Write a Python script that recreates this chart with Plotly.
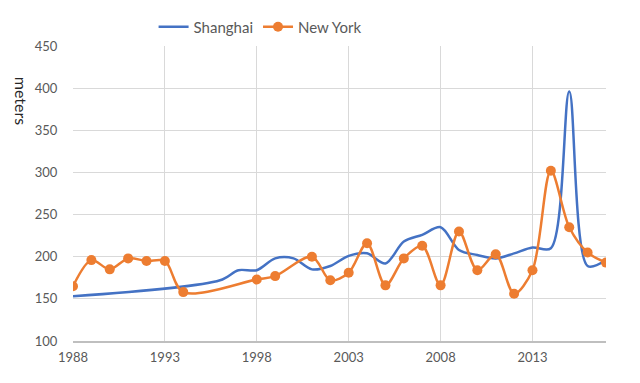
import plotly.graph_objects as go

# Shanghai (smooth line, no markers)
sh_years = [1988, 1996, 1997, 1998, 1999, 2000, 2001, 2002, 2003, 2004, 2005, 2006,
            2007, 2008, 2009, 2010, 2011, 2012, 2013, 2014, 2015, 2016, 2017]
sh_heights = [153, 172, 184, 184, 198, 198, 185, 189, 201, 204, 192, 218,
              226, 235, 208, 202, 198, 204, 211, 210, 396, 189, 196]

# New York (smooth line with markers)
ny_years = [1988, 1989, 1990, 1991, 1992, 1993, 1994, 1998, 1999, 2001, 2002, 2003,
            2004, 2005, 2006, 2007, 2008, 2009, 2010, 2011, 2012, 2013, 2014, 2015,
            2016, 2017]
ny_heights = [165, 196, 185, 198, 195, 195, 158, 173, 177, 200, 172, 181,
              216, 166, 198, 213, 166, 230, 184, 203, 156, 184, 302, 235,
              205, 193]

x_ticks = [1988, 1993, 1998, 2003, 2008, 2013]
y_ticks = [100, 150, 200, 250, 300, 350, 400, 450]

BLUE = "#4472C4"
ORANGE = "#ED7D31"
FONT = "Lato, 'Noto Sans', sans-serif"

fig = go.Figure()
fig.add_trace(go.Scatter(
    x=sh_years, y=sh_heights, name="Shanghai", mode="lines",
    line=dict(color=BLUE, width=2.5, shape="spline", smoothing=0.9),
))
fig.add_trace(go.Scatter(
    x=ny_years, y=ny_heights, name="New York", mode="lines+markers",
    line=dict(color=ORANGE, width=2.5, shape="spline", smoothing=0.9),
    marker=dict(color=ORANGE, size=10),
))

fig.update_layout(
    width=640, height=383,
    margin=dict(l=73, r=34, t=45, b=42),
    paper_bgcolor="white", plot_bgcolor="white",
    font=dict(family=FONT, color="#595959", size=13),
    legend=dict(orientation="h", x=0.351, xanchor="center", y=1.061, yanchor="middle",
                font=dict(size=15, color="#595959"), itemwidth=30),
    showlegend=True,
)
fig.add_annotation(
    text="meters", xref="paper", yref="paper", x=-0.096, y=0.815,
    xanchor="center", yanchor="middle", textangle=90, showarrow=False,
    font=dict(size=16, color="#262626", family=FONT),
)
fig.update_xaxes(
    range=[1988, 2017], tickvals=x_ticks, ticktext=[str(v) for v in x_ticks],
    showgrid=True, gridcolor="#D9D9D9", gridwidth=1,
    showline=True, linecolor="#BFBFBF", linewidth=1.5,
    ticks="outside", ticklen=4, tickcolor="rgba(0,0,0,0)",
    zeroline=False, tickfont=dict(size=13, color="#595959"),
)
fig.update_yaxes(
    range=[100, 450], tickvals=y_ticks,
    showgrid=True, gridcolor="#D9D9D9", gridwidth=1,
    showline=False, zeroline=False,
    ticks="outside", ticklen=12, tickcolor="rgba(0,0,0,0)",
    tickfont=dict(size=13, color="#595959"),
)

fig.write_html("out.html", config={"displayModeBar": False},
               post_script="document.body.style.margin='0';")
